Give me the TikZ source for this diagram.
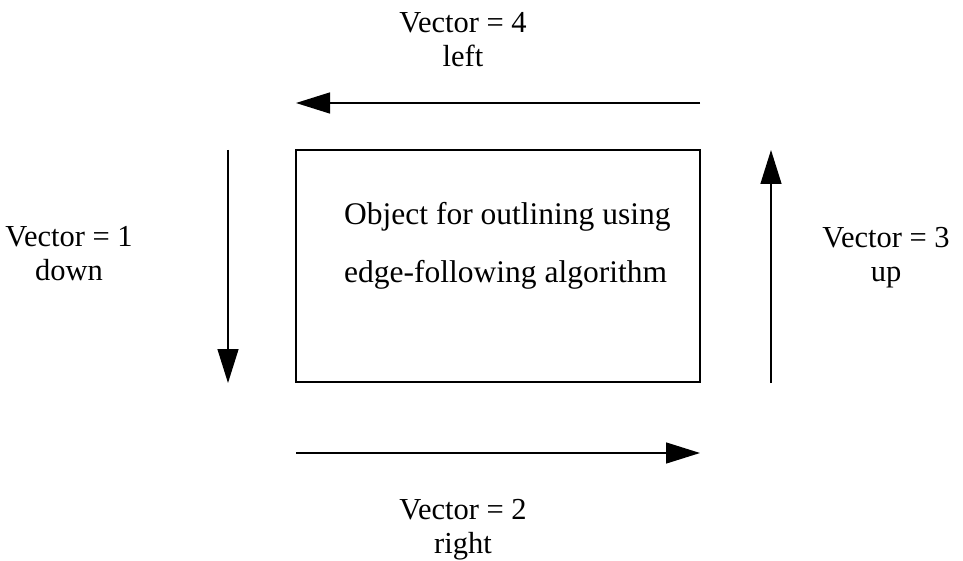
\documentclass[tikz,border=0pt]{standalone}
\usepackage{fontspec}
\setmainfont{Liberation Serif}
\usetikzlibrary{arrows.meta}
\begin{document}
\begin{tikzpicture}[x=1pt,y=-1pt,
  lbl/.style={align=center,inner sep=0pt,font=\fontsize{30.5}{34}\selectfont},
  objtext/.style={align=left,inner sep=0pt,anchor=west,font=\fontsize{31.5}{58}\selectfont},
  objbox/.style={draw,line width=1.6pt,minimum width=404pt,minimum height=232pt,inner sep=0pt},
  vec/.style={line width=1.4pt,-{Triangle[length=34pt,width=21pt]}}]
\useasboundingbox (0,0) rectangle (963,561);
% the object being outlined
\node[objbox] (obj) at (498,266) {};
\node[objtext] (objlabel) at (344,246) {Object for outlining using\\edge-following algorithm};
% direction vectors around the object
\coordinate (topR) at (700,103);
\coordinate (topL) at (296,103);
\coordinate (leftT) at (228,150);
\coordinate (leftB) at (228,383);
\coordinate (botL) at (296,453);
\coordinate (botR) at (700,453);
\coordinate (rightB) at (771,383);
\coordinate (rightT) at (771,150);
\draw[vec] (topR) -- (topL);
\draw[vec] (leftT) -- (leftB);
\draw[vec] (botL) -- (botR);
\draw[vec] (rightB) -- (rightT);
% vector labels
\node[lbl] (v4) at (463,40) {Vector = 4\\left};
\node[lbl] (v1) at (69,254) {Vector = 1\\down};
\node[lbl] (v3) at (886,258) {Vector = 3\\up};
\node[lbl] (v2) at (463,530) {Vector = 2\\right};
\end{tikzpicture}
\end{document}
